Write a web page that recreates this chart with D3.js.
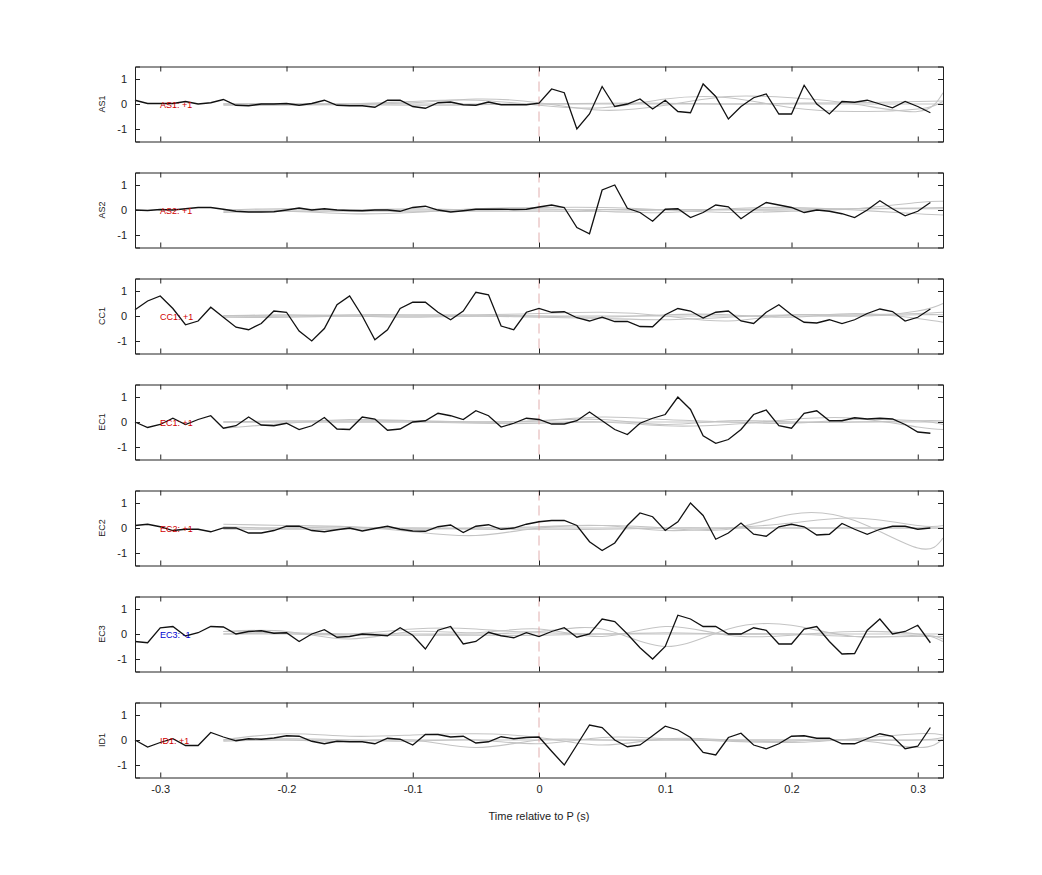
<!DOCTYPE html>
<html><head><meta charset="utf-8">
<script src="https://cdn.jsdelivr.net/npm/d3@7"></script>
<style>body{margin:0;background:#fff}text{font-family:"Liberation Sans",Arial,sans-serif}</style>
</head><body><svg id="c" width="1042" height="875"></svg>
<script>
const channels = ["AS1","AS2","CC1","EC1","EC2","EC3","ID1"];
const labels = ["AS1: +1","AS2: +1","CC1: +1","EC1: +1","EC2: +1","EC3: -1","ID1: +1"];
const labelColors = ["#d00000","#d00000","#d00000","#d00000","#d00000","#0000d0","#d00000"];
const times = d3.range(64).map(i => +(-0.32 + i*0.01).toFixed(2));
const xTicks = [-0.3,-0.2,-0.1,0,0.1,0.2,0.3];
const yTicks = [-1,0,1];
const AS1 = [0.15,0.02,0.02,0.02,0.1,0,0.05,0.18,-0.05,-0.07,0,0,0.02,-0.05,0.02,0.15,-0.05,-0.07,-0.07,-0.13,0.15,0.15,-0.1,-0.17,0.05,0.08,-0.03,-0.05,0.08,-0.03,-0.03,-0.03,0.03,0.6,0.45,-1.0,-0.4,0.7,-0.1,0.0,0.2,-0.2,0.15,-0.3,-0.35,0.8,0.3,-0.6,-0.1,0.25,0.4,-0.4,-0.4,0.75,0.0,-0.4,0.1,0.07,0.15,0,-0.15,0.1,-0.1,-0.35];
const AS2 = [0,-0.02,0.02,0,0.05,0.1,0.1,0.03,-0.05,-0.08,-0.08,-0.07,0,0.08,0,0.05,0,-0.02,-0.03,0,0,-0.05,0.1,0.15,0,-0.08,-0.03,0.03,0.03,0.03,0.02,0.03,0.12,0.2,0.1,-0.7,-0.95,0.8,1.0,0.07,-0.1,-0.45,0.03,0.05,-0.3,-0.1,0.2,0.13,-0.35,0,0.3,0.2,0.1,-0.1,0,-0.05,-0.15,-0.3,0,0.37,0.05,-0.23,-0.05,0.3];
const CC1 = [0.25,0.6,0.8,0.3,-0.35,-0.2,0.35,-0.05,-0.45,-0.55,-0.3,0.2,0.15,-0.6,-1.0,-0.5,0.45,0.8,0,-0.95,-0.55,0.3,0.55,0.55,0.15,-0.15,0.2,0.95,0.85,-0.4,-0.55,0.15,0.3,0.15,0.17,-0.07,-0.2,-0.05,-0.22,-0.22,-0.42,-0.43,0.05,0.3,0.2,-0.08,0.15,0.2,-0.2,-0.3,0.15,0.45,0.05,-0.25,-0.28,-0.15,-0.3,-0.15,0.1,0.28,0.18,-0.2,-0.05,0.28];
const EC1 = [0,-0.22,-0.1,0.15,-0.1,0.1,0.25,-0.25,-0.15,0.2,-0.12,-0.15,-0.05,-0.3,-0.15,0.18,-0.28,-0.3,0.2,0.12,-0.33,-0.28,0,0.05,0.35,0.25,0.1,0.45,0.25,-0.2,-0.05,0.15,0.1,-0.08,-0.08,0.05,0.4,0.05,-0.3,-0.5,-0.05,0.15,0.3,1.0,0.5,-0.55,-0.85,-0.7,-0.3,0.3,0.48,-0.15,-0.25,0.35,0.45,0.05,0.05,0.17,0.12,0.15,0.12,-0.1,-0.4,-0.45];
const EC2 = [0.1,0.15,0.05,-0.1,-0.05,-0.05,-0.15,0,0,-0.2,-0.2,-0.1,0.07,0.07,-0.1,-0.15,-0.07,0,-0.12,-0.02,0.07,-0.05,-0.12,-0.13,0.05,0.12,-0.18,0.07,0.13,-0.05,0,0.15,0.25,0.3,0.3,0.1,-0.55,-0.9,-0.6,0.1,0.6,0.45,-0.1,0.25,1.0,0.5,-0.45,-0.2,0.2,-0.25,-0.33,0.05,0.15,0.05,-0.28,-0.25,0.18,-0.05,-0.25,-0.05,0.07,0.07,-0.05,0];
const EC3 = [-0.3,-0.35,0.25,0.3,-0.08,0.05,0.3,0.28,0,0.1,0.13,0.03,0.05,-0.3,0,0.17,-0.13,-0.1,0,-0.03,-0.07,0.25,-0.05,-0.6,0.15,0.3,-0.4,-0.3,0.07,-0.07,-0.15,0.05,-0.1,0.1,0.25,-0.13,0,0.6,0.5,0,-0.55,-1.0,-0.5,0.75,0.6,0.3,0.3,0,0,0.25,0.15,-0.4,-0.4,0.2,0.3,-0.3,-0.8,-0.78,0.15,0.6,0,0.1,0.35,-0.35];
const ID1 = [0,-0.28,-0.1,0.05,-0.22,-0.22,0.3,0.12,-0.03,0.05,0.03,0.08,0.17,0.15,-0.05,-0.15,-0.05,-0.07,-0.07,-0.15,0.07,0.03,-0.2,0.22,0.22,0.12,0.15,-0.12,-0.07,0.13,0.05,0.1,0.12,-0.45,-1.0,-0.2,0.6,0.5,0,-0.27,-0.2,0.17,0.55,0.4,0.1,-0.5,-0.6,0.1,0.27,-0.2,-0.35,-0.15,0.15,0.17,0.07,0.07,-0.15,-0.15,0.05,0.25,0.15,-0.35,-0.25,0.5];
const traces = [AS1,AS2,CC1,EC1,EC2,EC3,ID1];
const greyTimes = [-0.25,-0.2,-0.15,-0.1,-0.05,0,0.05,0.1,0.15,0.2,0.25,0.3,0.32];
const greys = [
 [[0,0,0,0.05,0.2,0.05,-0.25,-0.05,0.3,0.25,0,-0.3,0.45],[0,-0.02,0,0.1,0.15,-0.05,-0.15,0.2,0.25,-0.15,-0.3,-0.2,0.1],[-0.05,-0.05,-0.03,-0.05,-0.03,0,0.03,0.03,0,0.03,0.05,0.1,0.12],[0,0.02,0,0,0,0,0,0,0,0,0,0,0]],
 [[-0.1,-0.05,-0.15,-0.1,0.05,0.1,0.1,0,-0.1,-0.05,0.05,0.3,0.35],[0,0.05,0,0.05,0,0.05,-0.05,-0.1,0.05,0.1,0,-0.15,-0.2],[-0.05,-0.05,-0.05,-0.05,-0.05,-0.05,-0.05,0,0,0,0.05,0.05,0.05],[0,0,0,0,0,0,0.02,0.02,0.02,0.05,0.05,0.08,0.1]],
 [[0,0,0.05,0.05,0.05,0.1,0.15,0,-0.2,0.05,0,0.2,0.5],[0,0.05,0,-0.05,0,0,-0.05,0.05,0.05,-0.05,0.1,-0.1,-0.25],[-0.05,-0.05,0,0,0,-0.05,-0.1,-0.15,-0.05,0.05,0.05,0.1,0.15],[0.02,0,0,0,0,0,0,0,0,0,0,0.05,0.05]],
 [[-0.25,-0.05,0.1,0.05,0,0.05,0.2,0.1,0,-0.05,0.1,0.05,-0.1],[0,0,0,0,-0.05,-0.05,0,-0.15,-0.1,0.1,0.15,-0.2,-0.3],[0,0.05,0.05,0.05,0,0.05,0.1,-0.1,0.05,0,0,0.05,0.05],[0,0,0,0,0,0,0,0,0,0,0,0,0]],
 [[0.15,0.1,0.05,-0.15,-0.3,0,0.1,0,-0.05,0.55,0.3,-0.8,-0.4],[0.05,0,0.05,-0.05,0,0.05,0.1,-0.1,0,0.2,0.4,0.1,0.1],[-0.05,-0.05,-0.05,0,-0.05,-0.05,-0.05,0,0,0,0,0,0],[0,0,0,0,0,0,0,0,0,0,0,0,0]],
 [[0.1,0.05,0.0,0.2,0.2,0.1,0.2,-0.5,0.2,0.35,-0.1,-0.05,-0.2],[0.1,0.1,-0.2,0.1,0.05,0.2,-0.1,0.3,-0.05,-0.05,0.1,0.0,-0.3],[0,0,-0.05,-0.05,-0.05,-0.05,0,0,0,0,-0.1,-0.1,-0.1],[0,0.05,0,0,0,0.05,0,0.05,0,0,0,0,0]],
 [[0,0.25,0.15,0.2,0.25,0.1,-0.2,0.05,0,-0.05,0,-0.3,0.05],[0,0.05,0,-0.05,0,-0.15,0.1,0.05,-0.05,-0.1,0.05,0.25,0.2],[-0.05,0,-0.05,0,-0.3,0,0,0,0,0,0,0,0.1],[0,0,0,0,0,0,0,0,0,0,0,0,0]]
];
const svg = d3.select("#c");
const L=135, R=943, panelH=75, tops=[66.5,172.5,278.5,384.5,490.5,596.5,702.5];
const x = d3.scaleLinear().domain([-0.32,0.32]).range([L,R]);
const fmt = v => String(+v.toFixed(2));
channels.forEach((ch,i)=>{
  const top=tops[i];
  const y = d3.scaleLinear().domain([-1.5,1.5]).range([top+panelH, top]);
  const g = svg.append("g");
  const line = d3.line().x(d=>x(d[0])).y(d=>y(d[1])).curve(d3.curveNatural);
  greys[i].forEach(gs=>{
    g.append("path").datum(greyTimes.map((t,k)=>[t,gs[k]]))
     .attr("d", line).attr("fill","none").attr("stroke","#c4c4c4").attr("stroke-width",1.1);
  });
  g.append("line").attr("x1",x(0)).attr("x2",x(0)).attr("y1",top).attr("y2",top+panelH)
   .attr("stroke","#d99a9a").attr("stroke-dasharray","10,5").attr("stroke-width",0.8);
  g.append("path").datum(times.map((t,k)=>[t,traces[i][k]]))
   .attr("d", d3.line().x(d=>x(d[0])).y(d=>y(d[1]))).attr("fill","none").attr("stroke","#111").attr("stroke-width",1.3);
  g.append("text").attr("x",160).attr("y",y(0)+4).attr("font-size",9).attr("fill",labelColors[i]).text(labels[i]);
  const ax = (gen, tr) => svg.append("g").attr("transform",tr).call(gen);
  const bottom = ax(d3.axisBottom(x).tickValues(xTicks).tickSize(-5).tickFormat(i===6? fmt : () => "").tickPadding(8), `translate(0,${top+panelH})`);
  const topA = ax(d3.axisTop(x).tickValues(xTicks).tickSize(-5).tickFormat(""), `translate(0,${top})`);
  const left = ax(d3.axisLeft(y).tickValues(yTicks).tickSize(-5).tickFormat(fmt).tickPadding(8), `translate(${L},0)`);
  const right = ax(d3.axisRight(y).tickValues(yTicks).tickSize(-5).tickFormat(""), `translate(${R},0)`);
  [bottom,topA,left,right].forEach(a=>{a.selectAll("path").attr("stroke","#222");a.selectAll("line").attr("stroke","#222");
    a.selectAll("text").attr("font-size",11).attr("fill","#222").style("font-family","Liberation Sans, Arial");});
  svg.append("text").attr("transform",`translate(105,${y(0)}) rotate(-90)`).attr("text-anchor","middle")
   .attr("font-size",9).attr("fill","#222").text(ch);
});
svg.append("text").attr("x",x(0)).attr("y",820).attr("text-anchor","middle").attr("font-size",11).attr("fill","#222").text("Time relative to P (s)");
</script></body></html>
